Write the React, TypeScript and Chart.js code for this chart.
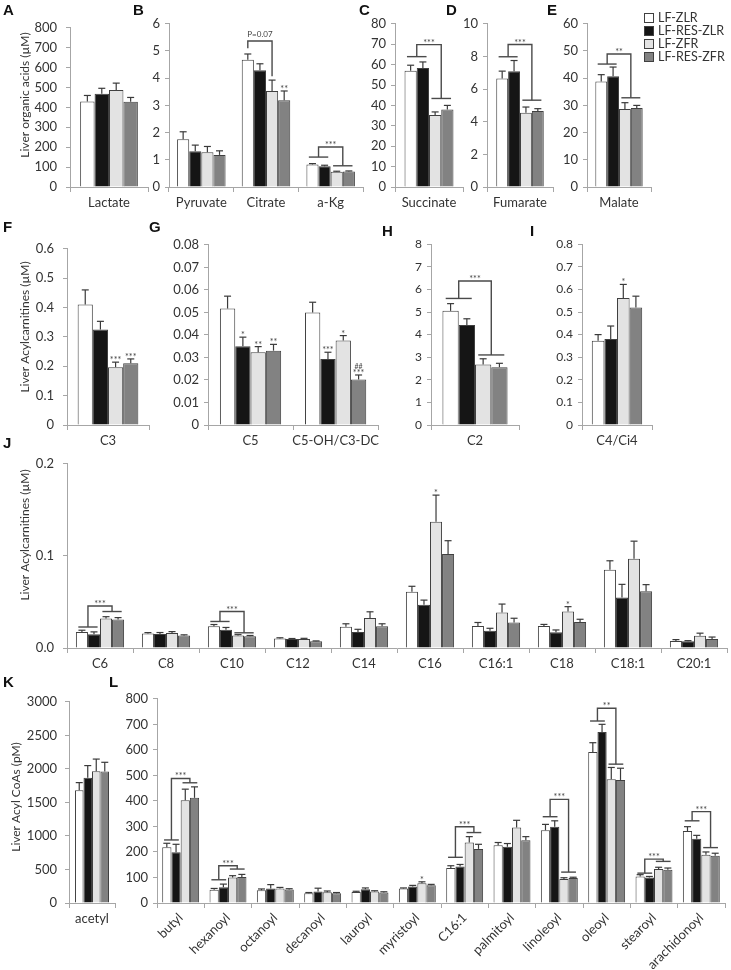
import React, { useEffect, useRef } from "react";
import { Chart, registerables } from "chart.js";
Chart.register(...registerables);

// ---------- series ----------
const SERIES = ["LF-ZLR", "LF-RES-ZLR", "LF-ZFR", "LF-RES-ZFR"];

// ---------- A: organic acids (µM) ----------
const catsA = ["Lactate"];
const meanA = [[430], [468], [487], [428]];
const errA = [[30], [28], [35], [22]];

// ---------- B ----------
const catsB = ["Pyruvate", "Citrate", "a-Kg"];
const meanB = [[1.76, 4.68, 0.83], [1.31, 4.29, 0.76], [1.28, 3.53, 0.56], [1.18, 3.19, 0.57]];
const errB = [[0.27, 0.21, 0.03], [0.23, 0.24, 0.04], [0.21, 0.4, 0.02], [0.15, 0.34, 0.02]];
const bracketsB = [
  { kind: "span", cat: 1, a: 0, b: 2, y1: 5.1, y2: 4.07, top: 5.37, text: "P=0.07" },
  { kind: "pair", cat: 2, y1: 1.1, y2: 0.78, top: 1.47, text: "***" },
];
const starsB = [{ cat: 1, s: 3, lines: ["**"] }];

// ---------- C ----------
const catsC = ["Succinate"];
const meanC = [[57], [58.3], [35.3], [38]];
const errC = [[2.7], [3], [1.5], [2]];
const bracketsC = [{ kind: "pair", cat: 0, y1: 63.9, y2: 43.4, top: 69.8, text: "***" }];

// ---------- D ----------
const catsD = ["Fumarate"];
const meanD = [[6.65], [7.1], [4.55], [4.65]];
const errD = [[0.45], [0.65], [0.35], [0.15]];
const bracketsD = [{ kind: "pair", cat: 0, y1: 7.98, y2: 5.32, top: 8.73, text: "***" }];

// ---------- E ----------
const catsE = ["Malate"];
const meanE = [[38.8], [40.7], [28.7], [29]];
const errE = [[2.5], [3.4], [2.3], [1.0]];
const bracketsE = [{ kind: "pair", cat: 0, y1: 45.2, y2: 32.8, top: 48.9, text: "**" }];

// ---------- F ----------
const catsF = ["C3"];
const meanF = [[0.41], [0.325], [0.197], [0.21]];
const errF = [[0.05], [0.028], [0.017], [0.015]];
const starsF = [{ cat: 0, s: 2, lines: ["***"] }, { cat: 0, s: 3, lines: ["***"] }];

// ---------- G ----------
const catsG = ["C5", "C5-OH/C3-DC"];
const meanG = [[0.0517, 0.05], [0.035, 0.0293], [0.0323, 0.0375], [0.033, 0.0202]];
const errG = [[0.0055, 0.0045], [0.004, 0.003], [0.0025, 0.0022], [0.0028, 0.002]];
const starsG = [
  { cat: 0, s: 1, lines: ["*"] },
  { cat: 0, s: 2, lines: ["**"] },
  { cat: 0, s: 3, lines: ["**"] },
  { cat: 1, s: 1, lines: ["***"] },
  { cat: 1, s: 2, lines: ["*"] },
  { cat: 1, s: 3, lines: ["***", "##"] },
];

// ---------- H ----------
const catsH = ["C2"];
const meanH = [[5.05], [4.42], [2.68], [2.56]];
const errH = [[0.32], [0.28], [0.25], [0.17]];
const bracketsH = [{ kind: "pair", cat: 0, y1: 5.6, y2: 3.1, top: 6.37, text: "***" }];

// ---------- I ----------
const catsI = ["C4/Ci4"];
const meanI = [[0.373], [0.38], [0.562], [0.52]];
const errI = [[0.027], [0.058], [0.06], [0.05]];
const starsI = [{ cat: 0, s: 2, lines: ["*"] }];

// ---------- J ----------
const catsJ = ["C6", "C8", "C10", "C12", "C14", "C16", "C16:1", "C18", "C18:1", "C20:1"];
const meanJ = [
  [0.0175, 0.0157, 0.0235, 0.0103, 0.023, 0.061, 0.0239, 0.0239, 0.0849, 0.0077],
  [0.015, 0.0153, 0.0198, 0.0097, 0.0175, 0.047, 0.0186, 0.0172, 0.0547, 0.0074],
  [0.032, 0.0163, 0.0135, 0.0097, 0.0326, 0.137, 0.0386, 0.0396, 0.0968, 0.0133],
  [0.031, 0.0135, 0.0128, 0.0072, 0.0235, 0.102, 0.0277, 0.0281, 0.0617, 0.0098],
];
const errJ = [
  [0.0018, 0.001, 0.002, 0.0008, 0.0033, 0.006, 0.0038, 0.0017, 0.0098, 0.0014],
  [0.0025, 0.0015, 0.0025, 0.0006, 0.0028, 0.005, 0.0028, 0.0024, 0.0144, 0.0006],
  [0.002, 0.0015, 0.001, 0.0008, 0.0067, 0.029, 0.0091, 0.0053, 0.0192, 0.0028],
  [0.002, 0.0008, 0.0008, 0.0005, 0.0028, 0.0145, 0.0046, 0.0031, 0.0071, 0.0021],
];
const bracketsJ = [
  { kind: "pair", cat: 0, y1: 0.0228, y2: 0.0396, top: 0.0456, text: "***" },
  { kind: "pair", cat: 2, y1: 0.0288, y2: 0.0165, top: 0.0396, text: "***" },
];
const starsJ = [{ cat: 5, s: 2, lines: ["*"] }, { cat: 7, s: 2, lines: ["*"] }];

// ---------- K ----------
const catsK = ["acetyl"];
const meanK = [[1683], [1868], [1966], [1961]];
const errK = [[112], [181], [180], [137]];

// ---------- L ----------
const catsL = ["butyl", "hexanoyl", "octanoyl", "decanoyl", "lauroyl", "myristoyl", "C16:1", "palmitoyl", "linoleoyl", "oleoyl", "stearoyl", "arachidonoyl"];
const meanL = [
  [218, 52, 50, 38, 43, 57, 137, 226, 285, 592, 104, 282],
  [199, 62, 57, 45, 54, 65, 143, 220, 299, 670, 100, 252],
  [403, 100, 57, 42, 45, 77, 237, 296, 94, 485, 133, 189],
  [412, 102, 53, 38, 41, 70, 212, 246, 98, 482, 130, 185],
];
const errL = [
  [16, 5, 5, 3, 3, 2, 9, 11, 23, 36, 7, 17],
  [31, 12, 15, 13, 5, 4, 8, 13, 23, 30, 4, 13],
  [43, 7, 4, 5, 3, 6, 23, 28, 5, 46, 7, 11],
  [43, 10, 3, 3, 3, 3, 18, 14, 3, 46, 7, 10],
];
const bracketsL = [
  { kind: "pair", cat: 0, y1: 247, y2: 471, top: 488, text: "***" },
  { kind: "pair", cat: 1, y1: 91, y2: 133, top: 146, text: "***" },
  { kind: "pair", cat: 6, y1: 179, y2: 276, top: 299, text: "***" },
  { kind: "pair", cat: 8, y1: 338, y2: 121, top: 406, text: "***" },
  { kind: "pair", cat: 9, y1: 713, y2: 544, top: 763, text: "**" },
  { kind: "pair", cat: 10, y1: 117, y2: 163, top: 172, text: "***" },
  { kind: "pair", cat: 11, y1: 322, y2: 217, top: 358, text: "***" },
];
const starsL = [{ cat: 5, s: 2, lines: ["*"] }];

// ---------- styles / layout ----------
const FILLS = ["#ffffff", "#151515", "#e3e3e3", "#828282"];
const BORDER = "#404040";
const AXIS = "#a6a6a6";
const TEXT = "#333333";
const FONT = 'Lato, "Open Sans", "DejaVu Sans", sans-serif';
const PADTOP = 12;

const PANELS: any[] = [
  { key: "A", cats: catsA, means: meanA, errs: errA, yMax: 800, yStep: 100, dec: 0, x0: 70, x1: 148, yTop: 23, yZero: 187, yAxisW: 70, tickPad: 9, catPct: 0.74, title: { text: "Liver organic acids (µM)", x: 25, y: 95 } },
  { key: "B", cats: catsB, means: meanB, errs: errB, yMax: 6, yStep: 1, dec: 0, x0: 169, x1: 363, yTop: 23, yZero: 187, yAxisW: 32, tickPad: 5, catPct: 0.75, brackets: bracketsB, stars: starsB },
  { key: "C", cats: catsC, means: meanC, errs: errC, yMax: 80, yStep: 10, dec: 0, x0: 395, x1: 463, yTop: 23, yZero: 187, yAxisW: 36, tickPad: 5, catPct: 0.72, brackets: bracketsC },
  { key: "D", cats: catsD, means: meanD, errs: errD, yMax: 10, yStep: 2, dec: 0, x0: 487, x1: 553, yAxisW: 36, yTop: 23, yZero: 187, tickPad: 5, catPct: 0.72, brackets: bracketsD },
  { key: "E", cats: catsE, means: meanE, errs: errE, yMax: 60, yStep: 10, dec: 0, x0: 587, x1: 651, yAxisW: 36, yTop: 23, yZero: 187, tickPad: 5, catPct: 0.74, brackets: bracketsE, legend: true, padRight: 80 },
  { key: "F", cats: catsF, means: meanF, errs: errF, yMax: 0.6, yStep: 0.1, dec: 1, x0: 67, x1: 149, yTop: 244, yZero: 425, yAxisW: 67, tickPad: 9, catPct: 0.74, stars: starsF, title: { text: "Liver Acylcarnitines (µM)", x: 25, y: 327 } },
  { key: "G", cats: catsG, means: meanG, errs: errG, yMax: 0.08, yStep: 0.01, dec: 2, x0: 208, x1: 379, yTop: 244, yZero: 425, yAxisW: 44, tickPad: 5, catPct: 0.72, stars: starsG },
  { key: "H", cats: catsH, means: meanH, errs: errH, yMax: 8, yStep: 1, dec: 0, x0: 431, x1: 519, yTop: 244, yZero: 425, yAxisW: 32, tickPad: 5, catPct: 0.74, brackets: bracketsH, tickSize: 12 },
  { key: "I", cats: catsI, means: meanI, errs: errI, yMax: 0.8, yStep: 0.1, dec: 1, x0: 582, x1: 652, yTop: 244, yZero: 425, yAxisW: 36, tickPad: 5, catPct: 0.72, stars: starsI, tickSize: 12 },
  { key: "J", cats: catsJ, means: meanJ, errs: errJ, yMax: 0.2, yStep: 0.1, dec: 1, zeroDec: true, x0: 67, x1: 727, yTop: 459, yZero: 648, yAxisW: 67, tickPad: 9, catPct: 0.73, brackets: bracketsJ, stars: starsJ, title: { text: "Liver Acylcarnitines (µM)", x: 25, y: 535 } },
  { key: "K", cats: catsK, means: meanK, errs: errK, yMax: 3000, yStep: 500, dec: 0, x0: 69, x1: 115, yTop: 698, yZero: 903, yAxisW: 69, tickPad: 8, catPct: 0.74, title: { text: "Liver Acyl CoAs (pM)", x: 16, y: 797 } },
  { key: "L", cats: catsL, means: meanL, errs: errL, yMax: 800, yStep: 100, dec: 0, x0: 157, x1: 725, yTop: 698, yZero: 903, yAxisW: 40, tickPad: 5, catPct: 0.78, brackets: bracketsL, stars: starsL, rotate: true, xAxisH: 67, padRight: 6 },
];

const LETTERS = [
  { t: "A", x: 3, y: 10 }, { t: "B", x: 133, y: 10 }, { t: "C", x: 359, y: 10 }, { t: "D", x: 446, y: 10 }, { t: "E", x: 547, y: 10 },
  { t: "F", x: 3, y: 227 }, { t: "G", x: 149, y: 227 }, { t: "H", x: 382, y: 231 }, { t: "I", x: 530, y: 231 },
  { t: "J", x: 3, y: 443 }, { t: "K", x: 3, y: 682 }, { t: "L", x: 109, y: 682 },
];

const LEGEND = { boxX: 644, textX: 658, rows: [18, 31, 44, 57], box: 10 };

function seg(ctx: any, x1: number, y1: number, x2: number, y2: number) {
  ctx.beginPath();
  ctx.moveTo(x1, y1);
  ctx.lineTo(x2, y2);
  ctx.stroke();
}

function makeAnnot(spec: any, left: number, top: number) {
  return {
    id: "annot" + spec.key,
    afterDatasetsDraw(chart: any) {
      const ctx = chart.ctx;
      const ys = chart.scales.y;
      const px = (v: number) => ys.getPixelForValue(v);
      const metas = [0, 1, 2, 3].map((i) => chart.getDatasetMeta(i));
      ctx.save();
      // error bars
      ctx.strokeStyle = "#3a3a3a";
      ctx.lineWidth = 1.2;
      metas.forEach((m: any, si: number) =>
        m.data.forEach((bar: any, ci: number) => {
          const v = spec.means[si][ci];
          const e = spec.errs[si][ci];
          const ya = px(v);
          const yb = px(v + e);
          seg(ctx, bar.x, ya, bar.x, yb);
          seg(ctx, bar.x - 3.5, yb, bar.x + 3.5, yb);
        })
      );
      // brackets
      (spec.brackets || []).forEach((b: any) => {
        const xs = metas.map((m: any) => m.data[b.cat].x);
        const bw = metas[0].data[b.cat].width;
        const yT = px(b.top);
        ctx.strokeStyle = "#4a4a4a";
        ctx.lineWidth = 1.4;
        let l: number, r: number;
        if (b.kind === "pair") {
          l = (xs[0] + xs[1]) / 2;
          r = (xs[2] + xs[3]) / 2;
          const hw = bw * 0.8;
          seg(ctx, l - hw, px(b.y1), l + hw, px(b.y1));
          seg(ctx, r - hw, px(b.y2), r + hw, px(b.y2));
        } else {
          l = xs[b.a];
          r = xs[b.b];
        }
        ctx.beginPath();
        ctx.moveTo(l, px(b.y1));
        ctx.lineTo(l, yT);
        ctx.lineTo(r, yT);
        ctx.lineTo(r, px(b.y2));
        ctx.stroke();
        ctx.fillStyle = "#444";
        ctx.textAlign = "center";
        ctx.textBaseline = "alphabetic";
        if (b.text.startsWith("P")) {
          ctx.font = `8px ${FONT}`;
          ctx.fillText(b.text, (l + r) / 2, yT - 4);
        } else {
          ctx.font = `9px ${FONT}`;
          ctx.fillText(b.text, (l + r) / 2, yT + 1);
        }
      });
      // stars over single bars
      ctx.fillStyle = "#444";
      ctx.textAlign = "center";
      ctx.textBaseline = "alphabetic";
      (spec.stars || []).forEach((s: any) => {
        const bar = metas[s.s].data[s.cat];
        const yb = px(spec.means[s.s][s.cat] + spec.errs[s.s][s.cat]);
        s.lines.forEach((t: string, k: number) => {
          ctx.font = t.startsWith("#") ? `7px ${FONT}` : `9px ${FONT}`;
          ctx.fillText(t, bar.x, yb + 1 - k * 6.5);
        });
      });
      ctx.restore();
    },
    afterDraw(chart: any) {
      const ctx = chart.ctx;
      ctx.save();
      if (spec.title) {
        ctx.translate(spec.title.x - left, spec.title.y - top);
        ctx.rotate(-Math.PI / 2);
        ctx.fillStyle = TEXT;
        ctx.font = `12px ${FONT}`;
        ctx.textAlign = "center";
        ctx.textBaseline = "middle";
        ctx.fillText(spec.title.text, 0, 0);
        ctx.setTransform(1, 0, 0, 1, 0, 0);
      }
      if (spec.legend) {
        ctx.font = `12.5px ${FONT}`;
        ctx.textAlign = "left";
        ctx.textBaseline = "middle";
        SERIES.forEach((name, i) => {
          const cy = LEGEND.rows[i] - top;
          const bx = LEGEND.boxX - left;
          ctx.fillStyle = FILLS[i];
          ctx.fillRect(bx, cy - LEGEND.box / 2, LEGEND.box, LEGEND.box);
          ctx.strokeStyle = BORDER;
          ctx.lineWidth = 1;
          ctx.strokeRect(bx + 0.5, cy - LEGEND.box / 2 + 0.5, LEGEND.box - 1, LEGEND.box - 1);
          ctx.fillStyle = TEXT;
          ctx.fillText(name, LEGEND.textX - left, cy);
        });
      }
      ctx.restore();
    },
  };
}

function Panel({ spec }: { spec: any }) {
  const ref = useRef<HTMLCanvasElement>(null);
  const padRight = spec.padRight ?? 4;
  const xAxisH = spec.xAxisH ?? 30;
  const left = spec.x0 - spec.yAxisW;
  const top = spec.yTop - PADTOP;
  const W = spec.x1 - spec.x0 + spec.yAxisW + padRight;
  const H = spec.yZero - spec.yTop + PADTOP + xAxisH;

  useEffect(() => {
    const tickSize = spec.tickSize ?? 13;
    const chart = new Chart(ref.current as HTMLCanvasElement, {
      type: "bar",
      data: {
        labels: spec.cats,
        datasets: SERIES.map((name, si) => ({
          label: name,
          data: spec.means[si],
          backgroundColor: FILLS[si],
          borderColor: BORDER,
          borderWidth: 1,
          barPercentage: 1,
          categoryPercentage: spec.catPct,
        })),
      },
      options: {
        responsive: false,
        maintainAspectRatio: false,
        animation: false,
        devicePixelRatio: 1,
        layout: { padding: { top: PADTOP, right: padRight, left: 0, bottom: 0 } },
        plugins: { legend: { display: false }, tooltip: { enabled: false }, title: { display: false } },
        scales: {
          x: {
            offset: true,
            grid: { offset: true, drawOnChartArea: false, drawTicks: true, tickLength: 5, color: AXIS },
            border: { color: AXIS, width: 1 },
            ticks: {
              color: TEXT,
              font: { size: 13, family: FONT },
              padding: spec.rotate ? 2 : 3,
              autoSkip: false,
              maxRotation: spec.rotate ? 45 : 0,
              minRotation: spec.rotate ? 45 : 0,
            },
            afterFit: (s: any) => {
              s.height = xAxisH;
            },
          },
          y: {
            min: 0,
            max: spec.yMax,
            grid: { drawOnChartArea: false, drawTicks: true, tickLength: 4, color: AXIS },
            border: { color: AXIS, width: 1 },
            ticks: {
              stepSize: spec.yStep,
              color: TEXT,
              font: { size: tickSize, family: FONT },
              padding: spec.tickPad,
              callback: (v: any) => {
                const n = Number(v);
                if (n === 0 && !spec.zeroDec) return "0";
                return n.toFixed(spec.dec);
              },
            },
            afterFit: (s: any) => {
              s.width = spec.yAxisW;
            },
          },
        },
      } as any,
      plugins: [makeAnnot(spec, left, top)],
    });
    return () => chart.destroy();
  }, []);

  return (
    <canvas
      ref={ref}
      width={W}
      height={H}
      style={{ position: "absolute", left, top, width: W, height: H }}
    />
  );
}

export default function App() {
  return (
    <div style={{ position: "absolute", left: 0, top: 0, width: 731, height: 970, background: "#fff", overflow: "hidden" }}>
      {PANELS.map((p) => (
        <Panel key={p.key} spec={p} />
      ))}
      {LETTERS.map((l) => (
        <div
          key={l.t}
          style={{
            position: "absolute",
            left: l.x,
            top: l.y - 9,
            font: 'bold 15px "Liberation Sans", Arial, sans-serif',
            lineHeight: "18px",
            color: "#111",
          }}
        >
          {l.t}
        </div>
      ))}
    </div>
  );
}
